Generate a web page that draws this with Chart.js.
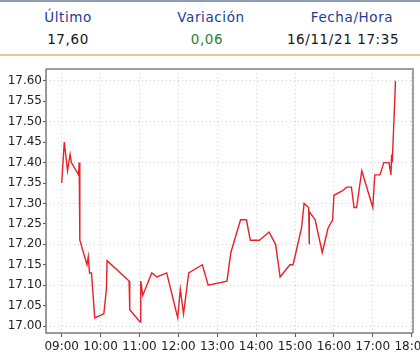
<!DOCTYPE html>
<html>
<head>
<meta charset="utf-8">
<script src="https://cdn.jsdelivr.net/npm/chart.js@4.4.0/dist/chart.umd.min.js"></script>
<style>
    html, body { margin: 0; padding: 0; background: #fff; overflow: hidden; }
    #page { position: relative; width: 420px; height: 362px; overflow: hidden; }
    #header { position: absolute; left: 0; top: 0; width: 420px; height: 56px;
              border-top: 2px solid #8e9bb0; border-bottom: 2px solid #e9c891; box-sizing: border-box; }
    .cell { position: absolute; transform: translateX(-50%); white-space: nowrap;
            font-family: "DejaVu Sans", sans-serif; font-size: 13.5px; letter-spacing: 0.6px; }
    .lbl { color: #1d3c94; top: 7px; }
    .val { color: #161616; top: 29px; }
    #chartBox { position: absolute; left: 0; top: 58px; width: 440px; height: 304px; }
</style>
</head>
<body>
<div id="page">
    <div id="header">
        <div class="cell lbl" style="left:68px">Último</div>
        <div class="cell lbl" style="left:211px">Variación</div>
        <div class="cell lbl" style="left:352px">Fecha/Hora</div>
        <div class="cell val" style="left:68px">17,60</div>
        <div class="cell val" style="left:207px; color:#2e7d32">0,06</div>
        <div class="cell val" style="left:343px">16/11/21 17:35</div>
    </div>
    <div id="chartBox"><canvas id="lineChart" width="440" height="304"></canvas></div>
</div>
<script>
// Intraday quotes (time, price)
const times = ['09:00', '09:04', '09:09', '09:13', '09:15', '09:26', '09:27', '09:28', '09:39', '09:41',
    '09:43', '09:46', '09:51', '10:05', '10:09', '10:10', '10:44', '10:45', '11:01', '11:02',
    '11:05', '11:19', '11:27', '11:42', '11:59', '12:03', '12:08', '12:16', '12:37', '12:46',
    '13:15', '13:21', '13:36', '13:45', '13:51', '14:05', '14:20', '14:30', '14:37', '14:52',
    '14:57', '15:10', '15:14', '15:21', '15:22', '15:22', '15:31', '15:42', '15:51', '15:58',
    '16:00', '16:12', '16:20', '16:27', '16:31', '16:35', '16:43', '17:00', '17:03', '17:11',
    '17:17', '17:25', '17:28', '17:29', '17:30', '17:35'];
const prices = [17.35, 17.45, 17.38, 17.42, 17.40, 17.37, 17.40, 17.21, 17.15, 17.17,
    17.13, 17.13, 17.02, 17.03, 17.09, 17.16, 17.11, 17.04, 17.01, 17.11,
    17.075, 17.13, 17.12, 17.13, 17.02, 17.09, 17.03, 17.13, 17.15, 17.10,
    17.11, 17.18, 17.26, 17.26, 17.21, 17.21, 17.23, 17.20, 17.12, 17.15,
    17.15, 17.24, 17.30, 17.29, 17.20, 17.28, 17.26, 17.18, 17.24, 17.26,
    17.32, 17.33, 17.34, 17.34, 17.29, 17.29, 17.38, 17.29, 17.37, 17.37,
    17.40, 17.40, 17.37, 17.42, 17.40, 17.60];

// Axis ticks
const xTickLabels = ['09:00', '10:00', '11:00', '12:00', '13:00', '14:00', '15:00', '16:00', '17:00', '18:00'];
const yTickValues = [17.00, 17.05, 17.10, 17.15, 17.20, 17.25, 17.30, 17.35, 17.40, 17.45, 17.50, 17.55, 17.60];

function toMinutes(hhmm) {
    const [h, m] = hhmm.split(':');
    return Number(h) * 60 + Number(m);
}

function toHHMM(min) {
    const h = Math.floor(min / 60);
    const m = Math.round(min % 60);
    return `${h.toString().padStart(2, '0')}:${m.toString().padStart(2, '0')}`;
}

const points = times.map((t, i) => ({ x: toMinutes(t), y: prices[i] }));

// frame around the plot area (top/right are lighter)
const framePlugin = {
    id: 'frame',
    afterDraw(chart) {
        const { ctx, chartArea: a } = chart;
        ctx.save();
        ctx.strokeStyle = '#a0a0a0';
        ctx.lineWidth = 2;
        ctx.beginPath();
        ctx.moveTo(a.left, a.top);
        ctx.lineTo(a.right, a.top);
        ctx.lineTo(a.right, a.bottom);
        ctx.stroke();
        ctx.strokeStyle = '#7a7a7a';
        ctx.lineWidth = 1.5;
        ctx.beginPath();
        ctx.moveTo(a.left, a.top);
        ctx.lineTo(a.left, a.bottom);
        ctx.lineTo(a.right, a.bottom);
        ctx.stroke();
        ctx.restore();
    }
};

const tickFont = { family: 'DejaVu Sans', size: 12 };

const ctx = document.getElementById('lineChart').getContext('2d');
const lineChart = new Chart(ctx, {
    type: 'line',
    data: {
        datasets: [{
            data: points,
            borderColor: 'rgb(232, 32, 40)',
            borderWidth: 1.4,
            pointRadius: 0,
            tension: 0,
            fill: false
        }]
    },
    options: {
        responsive: false,
        animation: false,
        layout: { autoPadding: false, padding: { left: 0, top: 11, right: 27, bottom: 0 } },
        plugins: {
            legend: { display: false },
            tooltip: { enabled: false }
        },
        scales: {
            x: {
                type: 'linear',
                min: 515.8,
                max: 1082,
                afterBuildTicks: scale => {
                    scale.ticks = xTickLabels.map(l => ({ value: toMinutes(l) }));
                },
                afterFit: scale => { scale.height = 29; },
                ticks: {
                    color: '#222',
                    font: tickFont,
                    padding: 3,
                    maxRotation: 0,
                    autoSkip: false,
                    callback: v => toHHMM(v)
                },
                grid: {
                    color: '#cfcfcf',
                    tickColor: '#555',
                    tickLength: 4,
                    lineWidth: 1
                },
                border: { display: false, dash: [1, 3] }
            },
            y: {
                min: 16.983,
                max: 17.629,
                afterBuildTicks: scale => {
                    scale.ticks = yTickValues.map(v => ({ value: v }));
                },
                afterFit: scale => { scale.width = 46; },
                ticks: {
                    color: '#222',
                    font: tickFont,
                    padding: 1,
                    callback: v => v.toFixed(2)
                },
                grid: {
                    // gridlines every 0.10, tick marks every 0.05
                    color: c => (Math.round(c.tick.value * 100) % 10 === 0 ? '#cfcfcf' : 'rgba(0,0,0,0)'),
                    tickColor: '#555',
                    tickLength: 3,
                    lineWidth: 1
                },
                border: { display: false, dash: [1, 3] }
            }
        }
    },
    plugins: [framePlugin]
});
</script>
</body>
</html>
